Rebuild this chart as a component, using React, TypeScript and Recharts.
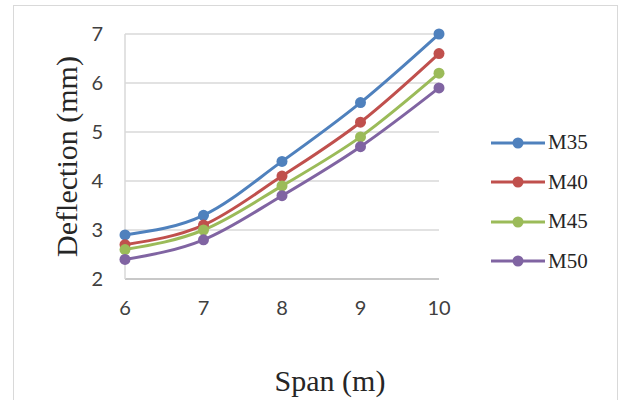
import { LineChart, Line, XAxis, YAxis, CartesianGrid, Label } from 'recharts'

const spans = [6, 7, 8, 9, 10]
const m35 = [2.9, 3.3, 4.4, 5.6, 7.0]
const m40 = [2.7, 3.1, 4.1, 5.2, 6.6]
const m45 = [2.6, 3.0, 3.9, 4.9, 6.2]
const m50 = [2.4, 2.8, 3.7, 4.7, 5.9]
const yTicks = [2, 3, 4, 5, 6, 7]

const seriesList = [
  { key: 'M35', color: '#4F81BD' },
  { key: 'M40', color: '#C0504D' },
  { key: 'M45', color: '#9BBB59' },
  { key: 'M50', color: '#8064A2' },
]

const data = spans.map((s, i) => ({ span: s, M35: m35[i], M40: m40[i], M45: m45[i], M50: m50[i] }))

const tickFont = { fontFamily: 'Lato, "Liberation Sans", sans-serif', fontSize: 20, fill: '#404040' }
const titleFont = 'Liberation Serif, "DejaVu Serif", serif'

// legend drawn outside the chart so it doesn't eat plot space
function LegendBox() {
  return (
    <div style={{ position: 'absolute', left: 490, top: 123, display: 'flex', flexDirection: 'column' }}>
      {seriesList.map((s) => (
        <div key={s.key} style={{ display: 'flex', alignItems: 'center', height: 39.5 }}>
          <svg width={56} height={12}>
            <line x1={1} y1={6} x2={55} y2={6} stroke={s.color} strokeWidth={3} />
            <circle cx={28} cy={6} r={5.5} fill={s.color} />
          </svg>
          <span style={{ fontFamily: titleFont, fontSize: 21, color: '#262626', marginLeft: 2 }}>{s.key}</span>
        </div>
      ))}
    </div>
  )
}

export default function App() {
  return (
    <div style={{ position: 'absolute', left: 0, top: 0, width: 620, height: 400, background: '#fff', overflow: 'hidden' }}>
      <div style={{ position: 'absolute', left: 13, top: 5, width: 603, height: 420, border: '1px solid #D9D9D9' }} />
      <LineChart width={620} height={400} data={data} margin={{ top: 34, right: 181, bottom: 91, left: 65 }}>
        <CartesianGrid vertical={false} stroke="#D9D9D9" strokeWidth={1.5} />
        <XAxis
          dataKey="span"
          type="category"
          padding={{ left: 0, right: 0 }}
          axisLine={{ stroke: '#BFBFBF', strokeWidth: 1.5 }}
          tickLine={false}
          tickSize={0}
          tickMargin={22}
          tick={tickFont}
          interval={0}
          height={30}
        >
          <Label value="Span (m)" position="center" dx={48} dy={86} style={{ fontFamily: titleFont, fontSize: 30, fill: '#262626' }} />
        </XAxis>
        <YAxis
          domain={[2, 7]}
          ticks={yTicks}
          interval={0}
          width={60}
          axisLine={{ stroke: '#D9D9D9', strokeWidth: 1.5 }}
          tickLine={false}
          tickSize={0}
          tickMargin={22}
          tick={tickFont}
        >
          <Label value="Deflection (mm)" angle={-90} position="center" dx={-29} style={{ fontFamily: titleFont, fontSize: 30, fill: '#262626' }} />
        </YAxis>
        {seriesList.map((s) => (
          <Line
            key={s.key}
            dataKey={s.key}
            type="monotone"
            stroke={s.color}
            strokeWidth={3}
            dot={{ r: 5.5, fill: s.color, stroke: 'none' }}
            activeDot={false}
            isAnimationActive={false}
          />
        ))}
      </LineChart>
      <LegendBox />
    </div>
  )
}
